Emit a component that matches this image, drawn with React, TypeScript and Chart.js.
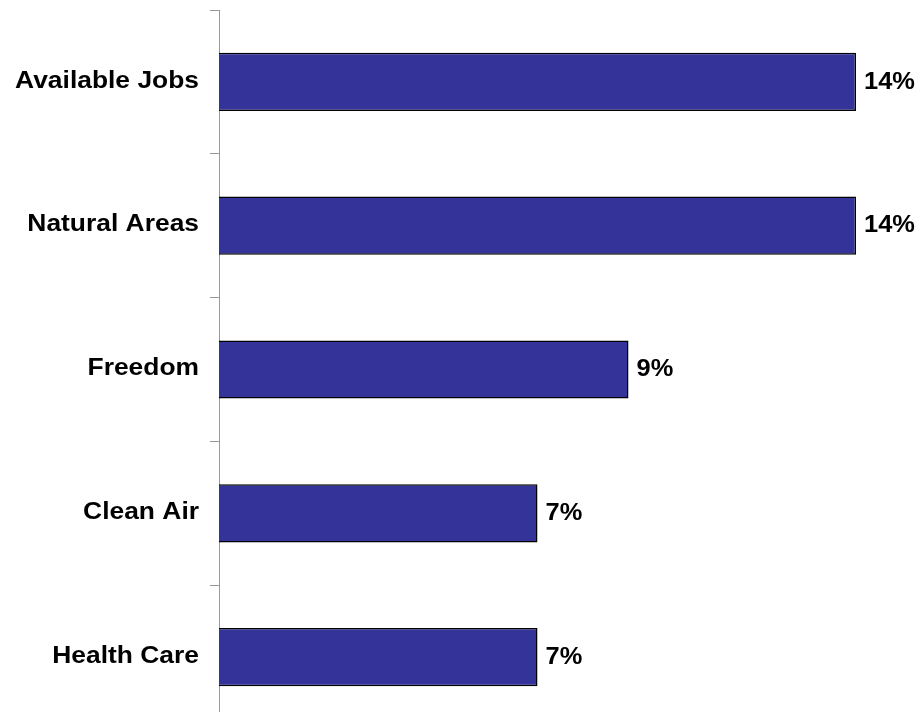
import React, { useEffect, useRef } from "react";
import { Chart, registerables } from "chart.js";

Chart.register(...registerables);

const categories = ["Available Jobs", "Natural Areas", "Freedom", "Clean Air", "Health Care"];
const values = [14, 14, 9, 7, 7];
const valueLabels = ["14%", "14%", "9%", "7%", "7%"];

const FONT = '"Liberation Sans", Arial, sans-serif';

const textPlugin = {
  id: "stretchedText",
  afterDraw(chart: any) {
    const ctx = chart.ctx;
    const yScale = chart.scales.y;
    const meta = chart.getDatasetMeta(0);
    ctx.save();
    ctx.font = `bold 24px ${FONT}`;
    ctx.fillStyle = "#000000";
    ctx.textBaseline = "middle";
    categories.forEach((label, i) => {
      const y = yScale.getPixelForTick(i);
      ctx.save();
      ctx.translate(199, y - 1);
      ctx.scale(1.1, 1);
      ctx.textAlign = "right";
      ctx.fillText(label, 0, 0);
      ctx.restore();
    });
    meta.data.forEach((bar: any, i: number) => {
      ctx.save();
      ctx.translate(bar.x + 8, bar.y);
      ctx.scale(1.06, 1);
      ctx.textAlign = "left";
      ctx.fillText(valueLabels[i], 0, 0);
      ctx.restore();
    });
    ctx.restore();
  },
};

export default function App() {
  const ref = useRef<HTMLCanvasElement | null>(null);

  useEffect(() => {
    if (!ref.current) return;
    const chart = new Chart(ref.current, {
      type: "bar",
      data: {
        labels: categories,
        datasets: [
          {
            data: values,
            backgroundColor: "#333399",
            borderColor: "#000000",
            borderWidth: 1.5,
            categoryPercentage: 1,
            barPercentage: 0.405,
          },
        ],
      },
      options: {
        indexAxis: "y",
        responsive: false,
        animation: false,
        devicePixelRatio: 1,
        layout: { padding: { top: 10, right: 64, bottom: 11, left: 0 } },
        plugins: {
          legend: { display: false },
          tooltip: { enabled: false },
        },
        scales: {
          x: { type: "linear", min: 0, max: 14, display: false },
          y: {
            type: "category",
            offset: true,
            z: 1,
            afterFit: (scale: any) => {
              scale.width = 219;
              scale.paddingTop = 0;
              scale.paddingBottom = 0;
            },
            grid: {
              offset: true,
              drawOnChartArea: false,
              drawTicks: true,
              tickLength: 9,
              color: "#999999",
              lineWidth: 1,
            },
            border: { display: true, color: "#999999", width: 1 },
            ticks: { display: false },
          },
        },
      },
      plugins: [textPlugin],
    } as any);
    return () => chart.destroy();
  }, []);

  return (
    <div
      style={{
        position: "fixed",
        left: 0,
        top: 0,
        width: 920,
        height: 712,
        overflow: "hidden",
        background: "#ffffff",
      }}
    >
      <canvas ref={ref} width={920} height={740} style={{ display: "block", width: 920, height: 740 }} />
    </div>
  );
}
